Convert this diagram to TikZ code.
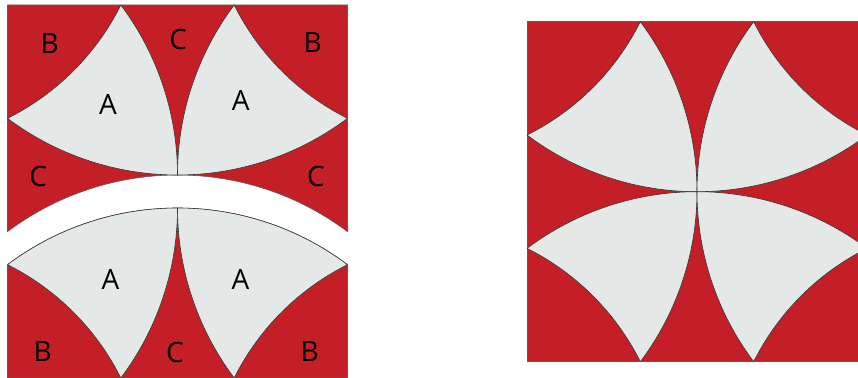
\documentclass[tikz,border=0pt]{standalone}
\usepackage{fontspec}
\setmainfont{Open Sans}
\definecolor{qred}{HTML}{C41F26}
\definecolor{qgray}{HTML}{E4E8E6}
\definecolor{qline}{HTML}{353535}
\def\qs{340}
\newcommand\qpetal{({-\qs/6},{\qs/2}) arc[start angle=-26.5651, end angle=-63.4349, radius={0.745356*\qs}] arc[start angle=-126.8699, end angle=-90, radius={5*\qs/6}] arc[start angle=0, end angle=36.8699, radius={5*\qs/6}] -- cycle}
\tikzset{
  petalfill/.style={fill=qgray, draw=qline, line width=0.6pt, line join=round},
  piece/.style={fill=qred, draw=qline!80, line width=0.6pt, line join=miter},
  lbl/.style={font=\fontsize{28}{30}\selectfont, text=black, inner sep=0pt},
}
\begin{document}
\begin{tikzpicture}[x=1pt,y=1pt]
\useasboundingbox (0,0) rectangle (858,377);
\clip (0,0) rectangle (858,377);
% right square
\begin{scope}[shift={(697,185.3)}]
  \path[piece] (-170,-170) rectangle (170,170);
  \foreach \r in {0,90,180,270} { \path[petalfill, rotate=\r] \qpetal; }
\end{scope}
% left upper piece
\begin{scope}[shift={(177.5,202)}]
  \path[piece] (-170,170) -- (-170,{-\qs/6}) arc[start angle=126.8699, end angle=53.1301, radius={5*\qs/6}] -- (170,170) -- cycle;
  \path[petalfill] \qpetal;
  \path[petalfill, rotate=-90] \qpetal;
\end{scope}
% left lower piece
\begin{scope}[shift={(177.5,169)}]
  \path[piece] (-170,{-\qs/6}) arc[start angle=126.8699, end angle=53.1301, radius={5*\qs/6}] -- (170,-170) -- (-170,-170) -- cycle;
  \path[petalfill, rotate=90] \qpetal;
  \path[petalfill, rotate=180] \qpetal;
\end{scope}
% labels
\node[lbl] (b1) at (49.7,333.7) {B};
\node[lbl] (c1) at (178.3,337) {C};
\node[lbl] (b2) at (312.8,334.3) {B};
\node[lbl] (a1) at (108,272.7) {A};
\node[lbl] (a2) at (240.7,276.3) {A};
\node[lbl] (c2) at (38.3,200) {C};
\node[lbl] (c3) at (316,200) {C};
\node[lbl] (a3) at (110.5,98) {A};
\node[lbl] (a4) at (240.5,98) {A};
\node[lbl] (b3) at (42.8,25.8) {B};
\node[lbl] (c4) at (175,25) {C};
\node[lbl] (b4) at (309.7,25.8) {B};
\end{tikzpicture}
\end{document}
